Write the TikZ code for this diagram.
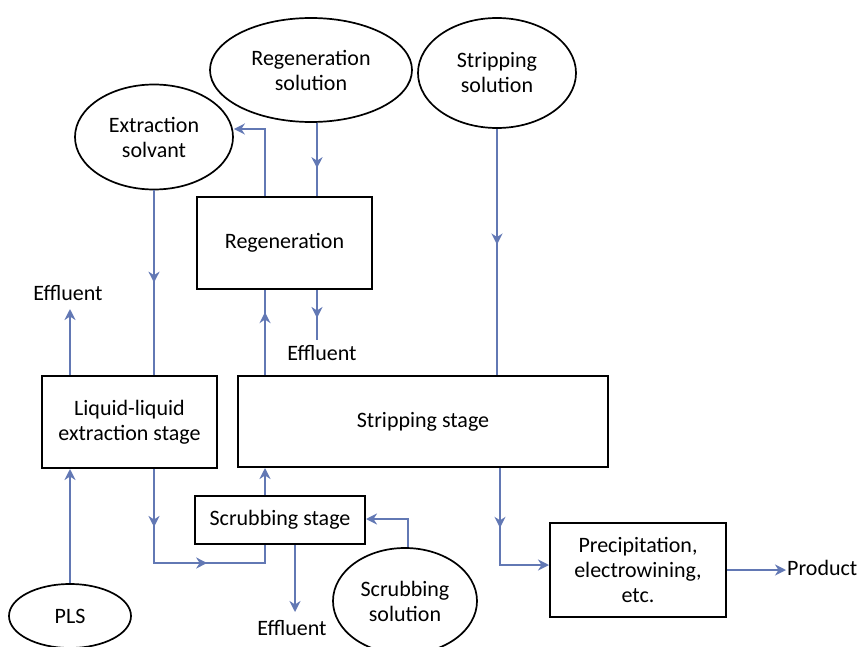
\documentclass[tikz,border=0pt]{standalone}
\usepackage{fontspec}
\setmainfont{Carlito}
\usetikzlibrary{arrows.meta,decorations.markings,shapes.geometric}
\definecolor{flowc}{RGB}{98,120,180}
\begin{document}
\begin{tikzpicture}[x=1pt,y=-1pt,
  every node/.style={font=\fontsize{22}{25}\selectfont, align=center},
  box/.style={draw, line width=2pt, rectangle, inner sep=0pt},
  ell/.style={draw, line width=1.7pt, ellipse, inner sep=0pt},
  lbl/.style={inner sep=1pt},
  flow/.style={draw=flowc, line width=2.6pt},
  tip/.style={-{Stealth[length=11pt,width=11pt,inset=3.5pt,flowc]}},
  marr/.style={postaction={decorate,decoration={markings,
      mark=at position #1 with {\arrow[flowc]{Stealth[length=11pt,width=11pt,inset=3.5pt]}}}}}
]
\useasboundingbox (0,0) rectangle (864,647);

% ellipses
\node[ell, minimum width=202pt, minimum height=104pt] (regsol) at (311,70) {Regeneration\\solution};
\node[ell, minimum width=158pt, minimum height=110pt] (stripsol) at (497,73) {Stripping\\solution};
\node[ell, minimum width=158pt, minimum height=105pt] (extsol) at (154,137) {Extraction\\solvant};
\node[ell, minimum width=122pt, minimum height=64pt] (pls) at (70,616) {PLS};
\node[ell, minimum width=144pt, minimum height=106pt] (scrubsol) at (405,601) {Scrubbing\\solution};

% boxes
\node[box, minimum width=175pt, minimum height=92pt] (regbox) at (284.5,243) {Regeneration};
\node[box, minimum width=175pt, minimum height=92pt] (lle) at (129.5,422) {Liquid-liquid\\extraction stage};
\node[box, minimum width=370pt, minimum height=91pt] (strip) at (423,421.5) {Stripping stage};
\node[box, minimum width=170pt, minimum height=48pt] (scrub) at (280,520) {Scrubbing stage};
\node[box, minimum width=176pt, minimum height=94pt] (precip) at (638,570) {Precipitation,\\electrowining,\\etc.};

% labels
\node[lbl] (eff1) at (68,293) {Effluent};
\node[lbl] (eff2) at (322,353) {Effluent};
\node[lbl] (eff3) at (292,628) {Effluent};
\node[lbl, anchor=west] (prod) at (786,568) {Product};

% coordinates
\coordinate (x70) at (70,0);
\coordinate (x154) at (154,0);
\coordinate (x265) at (265,0);
\coordinate (x295) at (295,0);
\coordinate (x317) at (317,0);
\coordinate (x497) at (497,0);
\coordinate (x500) at (500,0);
\coordinate (e1) at (70,309);
\coordinate (e2) at (317,340);
\coordinate (e3) at (295,612);
\coordinate (c1) at (154,563);
\coordinate (c2) at (265,563);
\coordinate (c3) at (408,519);
\coordinate (c4) at (265,129);
\coordinate (c5) at (500,565);

% connectors
\draw[flow, marr=0.5] (x154 |- extsol.south) -- (x154 |- lle.north);
\draw[flow, tip] (x70 |- lle.north) -- (e1);
\draw[flow, tip] (x70 |- pls.north) -- (x70 |- lle.south);
\draw[flow, postaction={decorate,decoration={markings,
      mark=at position 0.26 with {\arrow[flowc]{Stealth[length=11pt,width=11pt,inset=3.5pt]}},
      mark=at position 0.66 with {\arrow[flowc]{Stealth[length=11pt,width=11pt,inset=3.5pt]}}}}]
  (x154 |- lle.south) -- (c1) -- (c2) -- (c2 |- scrub.south);
\draw[flow, tip] (x265 |- scrub.north) -- (x265 |- strip.south);
\draw[flow, tip] (x295 |- scrub.south) -- (e3);
\draw[flow, tip] (c3 |- scrubsol.north) -- (c3) -- (c3 -| scrub.east);
\draw[flow, marr=0.74] (x265 |- strip.north) -- (x265 |- regbox.south);
\draw[flow, tip] (x265 |- regbox.north) -- (c4) -- (c4 -| extsol.east);
\draw[flow, marr=0.62] (x317 |- regsol.south) -- (x317 |- regbox.north);
\draw[flow, marr=0.56] (x317 |- regbox.south) -- (e2);
\draw[flow, marr=0.47] (x497 |- stripsol.south) -- (x497 |- strip.north);
\draw[flow, tip, marr=0.41] (x500 |- strip.south) -- (c5) -- (c5 -| precip.west);
\draw[flow, tip] (precip.east) -- (precip.east -| prod.west);
\end{tikzpicture}
\end{document}
